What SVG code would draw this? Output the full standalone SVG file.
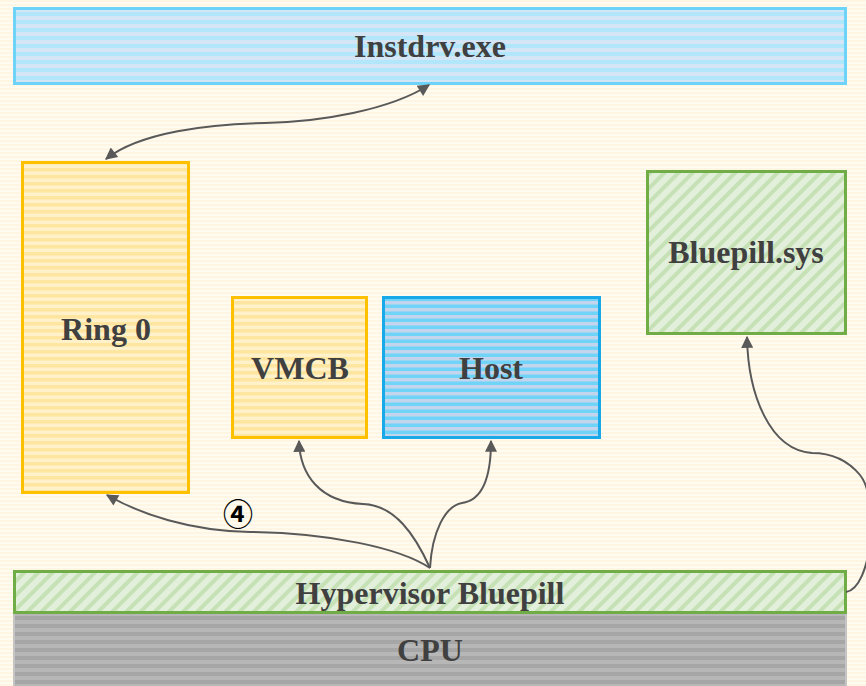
<svg xmlns="http://www.w3.org/2000/svg" width="866" height="686" viewBox="0 0 866 686">
<defs>
  <pattern id="bg" width="8" height="4" patternUnits="userSpaceOnUse">
    <rect width="8" height="4" fill="#fef6e2"/>
    <rect y="2" width="8" height="2" fill="#fffbf1"/>
  </pattern>
  <pattern id="pBlueLight" width="8" height="8" patternUnits="userSpaceOnUse">
    <rect width="8" height="8" fill="#d4e6f6"/>
    <rect y="4" width="8" height="4" fill="#b2e6fb"/>
  </pattern>
  <pattern id="pYellow" width="8" height="7" patternUnits="userSpaceOnUse">
    <rect width="8" height="7" fill="#fee5a0"/>
    <rect y="3.5" width="8" height="3.5" fill="#fff1c9"/>
  </pattern>
  <pattern id="pBlue" width="8" height="7" patternUnits="userSpaceOnUse">
    <rect width="8" height="7" fill="#c3d5ec"/>
    <rect y="3.5" width="8" height="3.5" fill="#70d3f8"/>
  </pattern>
  <pattern id="pGreen" width="10" height="10" patternUnits="userSpaceOnUse" patternTransform="rotate(45)">
    <rect width="10" height="10" fill="#e2efda"/>
    <rect width="4" height="10" fill="#c6e1b5"/>
  </pattern>
  <pattern id="pGray" width="8" height="8" patternUnits="userSpaceOnUse">
    <rect width="8" height="8" fill="#a6a6a6"/>
    <rect y="4" width="8" height="4" fill="#b7b7b7"/>
  </pattern>
  <marker id="arr" viewBox="0 0 10 10" refX="9" refY="5" markerWidth="14" markerHeight="12" markerUnits="userSpaceOnUse" orient="auto-start-reverse">
    <path d="M0,0 L10,5 L0,10 z" fill="#595959"/>
  </marker>
</defs>
<style>
  .lbl { font-family: "Liberation Serif", "DejaVu Serif", serif; font-weight: bold; font-size: 32px; fill: #404040; text-anchor: middle; }
  .conn { fill: none; stroke: #595959; stroke-width: 2; }
</style>
<rect width="866" height="686" fill="url(#bg)"/>

<g id="instdrv">
  <rect x="14.5" y="8.5" width="831" height="75" fill="url(#pBlueLight)" stroke="#6dd3f8" stroke-width="3"/>
  <text class="lbl" x="430" y="57">Instdrv.exe</text>
</g>
<g id="ring0">
  <rect x="22.5" y="162.5" width="166" height="330" fill="url(#pYellow)" stroke="#ffc000" stroke-width="3"/>
  <text class="lbl" x="106" y="340">Ring 0</text>
</g>
<g id="vmcb">
  <rect x="232.5" y="297.5" width="134" height="140" fill="url(#pYellow)" stroke="#ffc000" stroke-width="3"/>
  <text class="lbl" x="300" y="379">VMCB</text>
</g>
<g id="host">
  <rect x="383.5" y="297.5" width="216" height="140" fill="url(#pBlue)" stroke="#1aa9e8" stroke-width="3"/>
  <text class="lbl" x="491" y="379">Host</text>
</g>
<g id="bluepillsys">
  <rect x="647.5" y="171.5" width="198" height="162" fill="url(#pGreen)" stroke="#70ad47" stroke-width="3"/>
  <text class="lbl" x="746" y="263">Bluepill.sys</text>
</g>
<g id="cpu">
  <rect x="14" y="613" width="832" height="75" fill="url(#pGray)" stroke="#c4c4c4" stroke-width="2"/>
  <text class="lbl" x="430" y="661">CPU</text>
</g>
<g id="hypervisor">
  <rect x="14.5" y="571.5" width="831" height="41" fill="url(#pGreen)" stroke="#70ad47" stroke-width="3"/>
  <text class="lbl" x="430" y="604">Hypervisor Bluepill</text>
</g>

<g id="connectors">
  <path class="conn" d="M106,159 C140,132 210,124 265,123 C320,122 390,110 429,85" marker-start="url(#arr)" marker-end="url(#arr)"/>
  <path class="conn" d="M430,568 C400,548 330,533 250,532 C190,531 140,514 107,495" marker-end="url(#arr)"/>
  <path class="conn" d="M430,568 C415,535 395,505 363,504 C320,502 300,475 299,441" marker-end="url(#arr)"/>
  <path class="conn" d="M430,568 C432,532 445,506 462,503 C484,500 491,475 491,441" marker-end="url(#arr)"/>
  <path class="conn" d="M846,592 C872,588 880,500 860,475 C845,457 828,453 812,453 C770,450 748,395 747,337" marker-end="url(#arr)"/>
  <text x="238" y="525" font-family="'Noto Sans CJK SC', 'DejaVu Sans', sans-serif" font-weight="bold" font-size="30" fill="#000" text-anchor="middle">④</text>
</g>
</svg>
